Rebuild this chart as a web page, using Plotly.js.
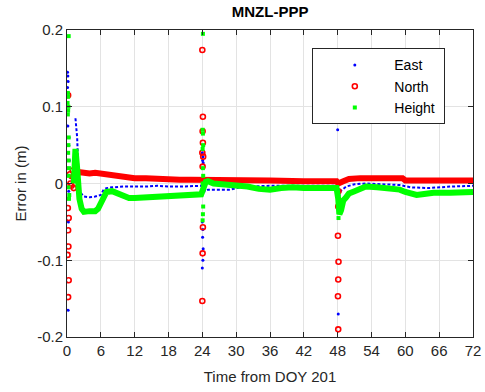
<!DOCTYPE html>
<html><head><meta charset="utf-8">
<script src="https://cdn.plot.ly/plotly-3.0.1.min.js"></script>
<style>html,body{margin:0;padding:0;background:#fff}#plot{width:485px;height:392px}</style>
</head><body><div id="plot"></div>
<script>
// ---- data (hours from DOY 201, error in metres) ----
const xTicks = [0,6,12,18,24,30,36,42,48,54,60,66,72];
const yTickVals = [-0.2,-0.1,0,0.1,0.2];
const yTickText = ['-0.2','-0.1','0','0.1','0.2'];

const eastBandT = [1.5,1.8,2.1,2.4,3,4,5,6,6.5,7,8,10,12,14,16,18,20,22,23.8, 24.5,25,27,29,30,32,36,40,44,47.8, 48.2,48.5,49.5,51,53,56,59,61,64,68,72];
const eastBandV = [0.085,0.06,0.0,-0.012,-0.017,-0.018,-0.017,-0.015,-0.008,-0.006,-0.005,-0.004,-0.004,-0.004,-0.003,-0.004,-0.004,-0.003,-0.003, -0.01,-0.008,-0.008,-0.008,-0.006,-0.004,-0.003,-0.003,-0.003,-0.003, -0.02,-0.01,-0.004,-0.001,0,-0.001,-0.002,-0.005,-0.006,-0.004,-0.003];
const eastSpikeT = [0.1,0.15,0.2,0.1,0.25,0.3,0.2,0.15,0.35,0.3,0.25,0.4,0.2,0.3,0.35,0.25,0.2, 24.0,24.1,24.05,24.15,24.0,24.1,24.05,24.15,24.1,24.0, 48.0,48.1,48.15,48.05];
const eastSpikeV = [0.145,0.14,0.133,0.125,0.118,0.1,0.095,0.075,0.06,0.05,0.04,0.03,0.02,-0.01,-0.02,-0.05,-0.165, 0.04,0.035,0.03,0.027,-0.05,-0.06,-0.07,-0.085,-0.1,-0.11, 0.07,-0.17,-0.01,-0.03];

const northBandT = [0.8,1.2,1.5,2,3,4,5,6,7,8,9,10,11,12,14,16,18,20,22,23.8, 24.4,26,30,36,42,47.8, 48.1,48.5,49,50,52,56,59.5,60,64,68,72];
const northBandV = [0.005,0.012,0.008,0.015,0.014,0.013,0.014,0.013,0.011,0.010,0.009,0.009,0.008,0.007,0.007,0.006,0.006,0.005,0.005,0.005, 0.004,0.004,0.004,0.004,0.003,0.003, 0.0,0.002,0.003,0.006,0.007,0.007,0.007,0.004,0.004,0.004,0.004];
const northSpikeT = [0.2,0.15,0.3,0.2,0.25,0.1,0.3,0.2,0.5,0.8,1.0,1.2,0.6, 24.0,24.1,24.05,24.1,24.0,24.15,24.05,24.1,24.05,24.0, 48.1,48.05,48.15,48.1,48.05,48.1,48.15];
const northSpikeV = [0.115,-0.032,-0.045,-0.061,-0.082,-0.093,-0.126,-0.148,0.012,-0.003,0.017,-0.006,0.0, 0.174,0.087,0.068,0.053,0.04,0.035,0.022,-0.057,-0.091,-0.153, -0.03,-0.068,-0.102,-0.125,-0.147,-0.19,-0.01];

const heightBandT = [1.2,1.5,1.8,2.2,2.6,3,4,5,5.5,6,6.5,7,8,9,10,11,12,14,16,18,20,22,23.8, 24.6,25,26,28,30,32,34,36,38,40,42,44,46,47.8, 48.1,48.3,48.6,49,49.5,50,51,52,53,55,57,59,60,61,62,63,65,68,72];
const heightBandV = [0.0,0.045,0.02,-0.02,-0.033,-0.037,-0.036,-0.036,-0.033,-0.025,-0.015,-0.011,-0.010,-0.013,-0.017,-0.019,-0.019,-0.018,-0.018,-0.017,-0.016,-0.015,-0.014, 0.002,0.003,0.0,-0.001,-0.002,-0.004,-0.007,-0.008,-0.006,-0.005,-0.006,-0.006,-0.006,-0.006, -0.02,-0.04,-0.035,-0.022,-0.018,-0.013,-0.010,-0.006,-0.004,-0.005,-0.006,-0.008,-0.011,-0.013,-0.015,-0.014,-0.012,-0.012,-0.011];
const heightSpikeT = [0.3,0.15,0.2,0.1,0.25,0.2,0.15,0.3,0.25,0.2,0.3,0.35,0.3,0.25,0.4,0.35, 24.1,24.05,24.1,24.15,24.05,24.1,24.15,24.05,24.1,24.15,24.1,24.05, 48.15,48.2];
const heightSpikeV = [0.192,0.118,0.113,0.105,0.1,0.095,0.09,0.06,0.05,0.04,0.03,0.02,0.01,-0.005,-0.015,-0.02, 0.195,0.07,0.065,0.05,0.045,0.02,0.01,0.0,-0.01,-0.03,-0.04,-0.048, -0.045,-0.03];

const names = ['East','North','Height'];
const colors = ['#0000ff','#ff0000','#00ff00'];

const FONT = 'Liberation Sans, Arial, Helvetica, sans-serif';
const pad = '\u00a0\u00a0\u00a0\u00a0\u00a0';
const tail = '\u00a0';

const traces = [
  {x:eastBandT, y:eastBandV, mode:'lines', line:{color:colors[0], width:2, dash:'3px,2px'}, showlegend:false, hoverinfo:'skip'},
  {x:eastSpikeT, y:eastSpikeV, mode:'markers', name:pad+names[0]+tail, marker:{symbol:'circle', size:3, color:colors[0]}},
  {x:northBandT, y:northBandV, mode:'lines', line:{color:colors[1], width:6}, showlegend:false, hoverinfo:'skip'},
  {x:northSpikeT, y:northSpikeV, mode:'markers', name:pad+names[1]+tail, marker:{symbol:'circle-open', size:5, color:colors[1], line:{width:1.6, color:colors[1]}}},
  {x:heightBandT, y:heightBandV, mode:'lines', line:{color:colors[2], width:6}, showlegend:false, hoverinfo:'skip'},
  {x:heightSpikeT, y:heightSpikeV, mode:'markers', name:pad+names[2]+tail, marker:{symbol:'square', size:4, color:colors[2]}}
];

const axisCommon = {
  showline:true, linecolor:'#262626', linewidth:1, mirror:'ticks',
  ticks:'inside', ticklen:5, tickcolor:'#262626', tickwidth:1,
  showgrid:true, gridcolor:'#e3e3e3', gridwidth:1, zeroline:false,
  tickfont:{family:FONT, size:15, color:'#262626'}
};

const layout = {
  width:485, height:392,
  margin:{l:67, r:12, t:30, b:55},
  paper_bgcolor:'#fff', plot_bgcolor:'#fff',
  font:{family:FONT, color:'#262626'},
  title:{text:'<b>MNZL-PPP</b>', font:{family:FONT, size:15, color:'#000'}, x:0.557, xanchor:'center', y:0.969, yanchor:'middle'},
  xaxis:Object.assign({}, axisCommon, {range:[0,72], tickvals:xTicks, ticktext:xTicks.map(String),
    title:{text:'Time from DOY 201', font:{family:FONT, size:15, color:'#262626'}, standoff:13}}),
  yaxis:Object.assign({}, axisCommon, {range:[-0.2,0.2], tickvals:yTickVals, ticktext:yTickText,
    title:{text:'Error in (m)', font:{family:FONT, size:15, color:'#262626'}, standoff:6}}),
  legend:{x:0.603, y:0.94, xanchor:'left', yanchor:'top', bgcolor:'#fff', bordercolor:'#262626', borderwidth:1,
    font:{family:FONT, size:14, color:'#000'}, indentation:22},
  showlegend:true
};

Plotly.newPlot('plot', traces, layout, {staticPlot:true, displayModeBar:false});
</script>
</body></html>
